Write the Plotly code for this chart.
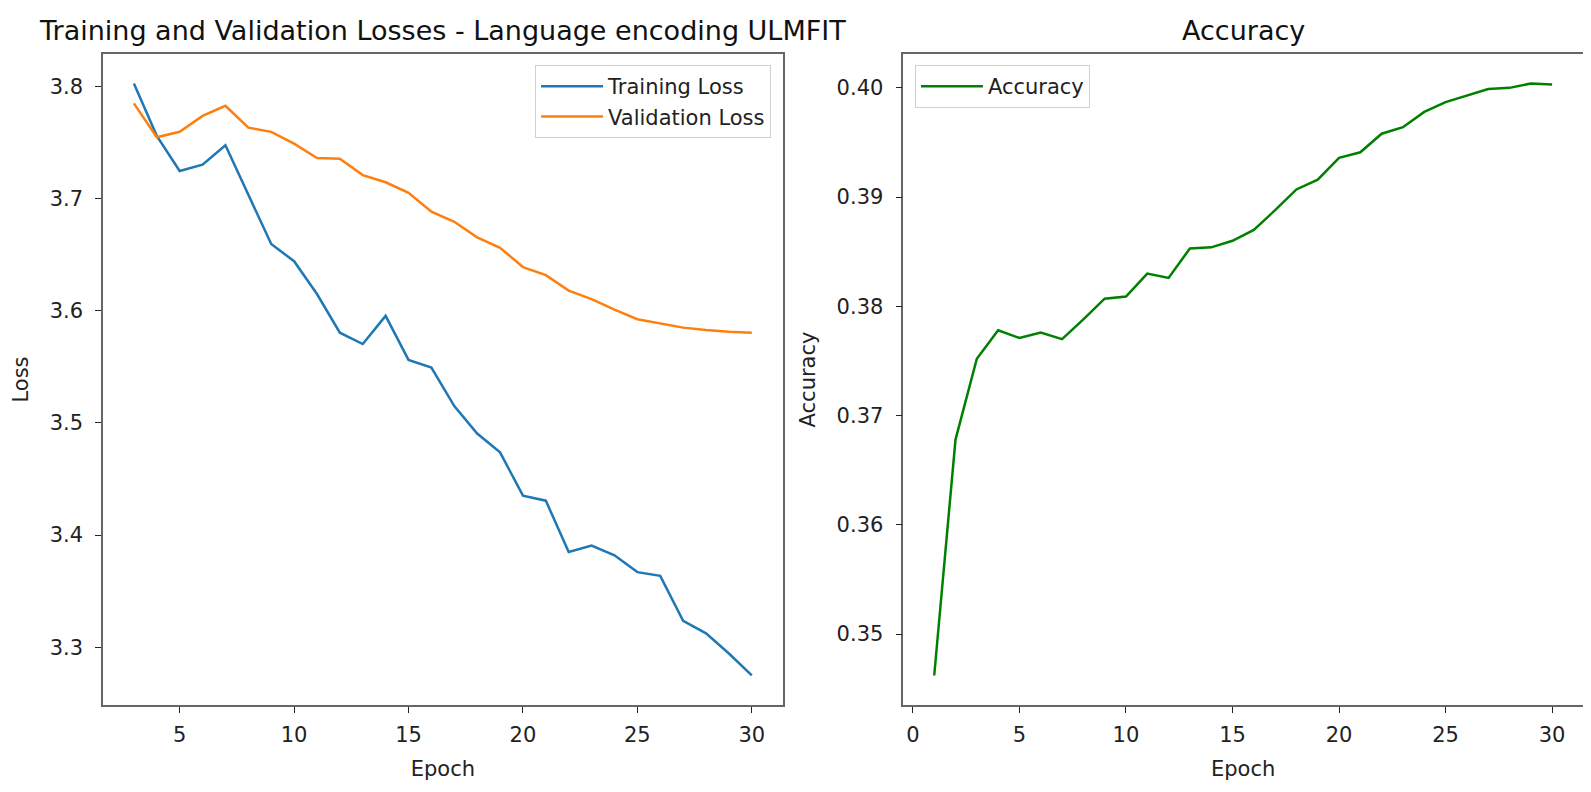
#training / validation loss and accuracy curves for the ULMFIT language encoding run

import plotly.graph_objs as go
from plotly.subplots import make_subplots

# Loss values read per epoch (epochs 3..30)
loss_epochs = list(range(3, 31))
training_loss = [3.8026, 3.7560, 3.7247, 3.7303, 3.7476, 3.7040, 3.6596, 3.6442,
                 3.6150, 3.5805, 3.5704, 3.5955, 3.5562, 3.5494, 3.5150, 3.4906,
                 3.4738, 3.4352, 3.4307, 3.3850, 3.3906, 3.3820, 3.3670, 3.3637,
                 3.3236, 3.3124, 3.2944, 3.2749]
validation_loss = [3.7850, 3.7547, 3.7596, 3.7738, 3.7828, 3.7633, 3.7596, 3.7491,
                   3.7363, 3.7356, 3.7210, 3.7146, 3.7052, 3.6884, 3.6794, 3.6655,
                   3.6562, 3.6390, 3.6318, 3.6180, 3.6105, 3.6011, 3.5925, 3.5888,
                   3.5850, 3.5828, 3.5813, 3.5805]

# Accuracy values read per epoch (epochs 1..30)
acc_epochs = list(range(1, 31))
accuracy = [0.3462, 0.3678, 0.3752, 0.3778, 0.3771, 0.3776, 0.3770, 0.3788,
            0.3807, 0.3809, 0.3830, 0.3826, 0.3853, 0.3854, 0.3860, 0.3870,
            0.3888, 0.3907, 0.3916, 0.3936, 0.3941, 0.3958, 0.3964, 0.3978,
            0.3987, 0.3993, 0.3999, 0.4000, 0.4004, 0.4003]

font_family = 'DejaVu Sans, Verdana, sans-serif'

fig = make_subplots(
    rows=1, cols=2,
    subplot_titles=('Training and Validation Losses - Language encoding ULMFIT', 'Accuracy'),
    horizontal_spacing=0.0815
)

fig.add_trace(go.Scatter(x=loss_epochs, y=training_loss, mode='lines', name='Training Loss',
                         line=dict(color='#1f77b4', width=2.5), legend='legend'), row=1, col=1)
fig.add_trace(go.Scatter(x=loss_epochs, y=validation_loss, mode='lines', name='Validation Loss',
                         line=dict(color='#ff7f0e', width=2.5), legend='legend'), row=1, col=1)
fig.add_trace(go.Scatter(x=acc_epochs, y=accuracy, mode='lines', name='Accuracy',
                         line=dict(color='green', width=2.5), legend='legend2'), row=1, col=2)

axis_style = dict(
    showline=True, mirror=True, linecolor='#666666', linewidth=1.5,
    ticks='outside', ticklen=6, tickwidth=1.2, tickcolor='#222222',
    showgrid=False, zeroline=False,
    tickfont=dict(family=font_family, size=21, color='#222222'),
    title_font=dict(family=font_family, size=21, color='#222222'),
)

fig.update_xaxes(axis_style, ticklabelstandoff=4)
fig.update_yaxes(axis_style, ticklabelstandoff=8)

fig.update_xaxes(title_text='Epoch', range=[1.65, 31.35], dtick=5, tick0=0, row=1, col=1)
fig.update_yaxes(title_text='Loss', range=[3.2485, 3.829], dtick=0.1, tickformat='.1f', row=1, col=1)
fig.update_xaxes(title_text='Epoch', range=[-0.45, 31.45], dtick=5, tick0=0, row=1, col=2)
fig.update_yaxes(title_text='Accuracy', range=[0.3435, 0.4031], dtick=0.01, tickformat='.2f', row=1, col=2)

# subplot titles
for ann in fig.layout.annotations:
    ann.font = dict(family=font_family, size=27, color='#111111')
    ann.yshift = 6

legend_style = dict(
    bgcolor='rgba(255,255,255,0.8)', bordercolor='#d0d0d0', borderwidth=1,
    font=dict(family=font_family, size=21, color='#222222'),
    tracegroupgap=0, itemwidth=62
)

fig.update_layout(
    width=1591, height=792,
    paper_bgcolor='white', plot_bgcolor='white',
    margin=dict(l=93, r=16, t=46, b=95),
    legend=dict(legend_style, x=0.4514, xanchor='right', y=0.983, yanchor='top'),
    legend2=dict(legend_style, x=0.5486, xanchor='left', y=0.983, yanchor='top'),
)

fig.write_html('out.html')
